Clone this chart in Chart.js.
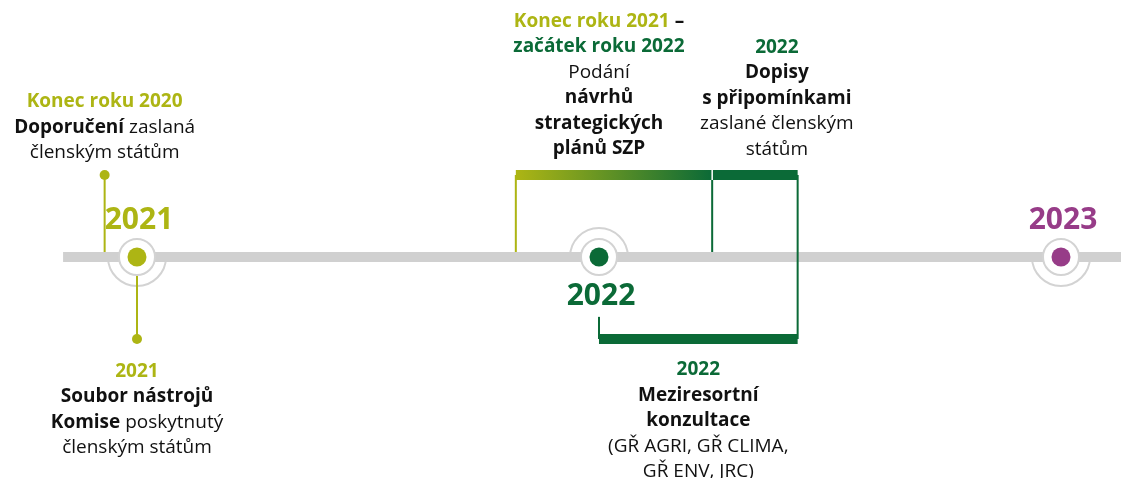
<!DOCTYPE html>
<html>
<head>
<meta charset="utf-8">
<title>Časová osa SZP</title>
<style>
  body { margin: 0; background: #fff; }
  #wrap { position: relative; width: 1121px; height: 478px; }
</style>
</head>
<body>
<div id="wrap"><canvas id="timeline"></canvas></div>
<script src="https://cdn.jsdelivr.net/npm/chart.js"></script>
<script>
// milníky na ose (roky)
const milestoneYears = [2021, 2022, 2023];
const milestoneLabels = ['2021', '2022', '2023'];

// rozsah šedé osy
const axisStart = 2020.84;
const axisEnd = 2023.3;

// období - vodorovné pruhy (úroveň 1 = nad osou, -1 = pod osou)
const periodStart = [2021.82, 2022.245, 2022.0];
const periodEnd = [2022.245, 2022.43, 2022.43];
const periodLevel = [1, 1, -1];

// svislé spojnice
const connectorX = [2020.93, 2021.0, 2021.82, 2022.245, 2022.43, 2022.0];
const connectorFrom = [1, -1, 1, 1, 1, -1];
const connectorTo = [0, 0, 0, 0, -1, -0.73];

// tečky na koncích spojnic
const pinX = [2020.93, 2021.0];
const pinLevel = [1, -1];

// popisky  ({o} = olivová, {g} = zelená, ** = tučně)
const noteX = [2020.93, 2021.0, 2022.0, 2022.385, 2022.215];
const noteLines = [
  ['{o}Konec roku 2020', '**Doporučení** zaslaná', 'členským státům'],
  ['{o}2021', '**Soubor nástrojů**', '**Komise** poskytnutý', 'členským státům'],
  ['{o}Konec roku 2021{/} **–**', '{g}začátek roku 2022', 'Podání', '**návrhů**', '**strategických**', '**plánů SZP**'],
  ['{g}2022', '**Dopisy**', '**s připomínkami**', 'zaslané členským', 'státům'],
  ['{g}2022', '**Meziresortní**', '**konzultace**', '(GŘ AGRI, GŘ CLIMA,', 'GŘ ENV, JRC)']
];

// --- vzhled ---
const C = {
  olive: '#adb514',
  green: '#0b6a37',
  purple: '#973c88',
  axis: '#d0d0d0',
  ring: '#d3d3d3',
  text: '#111'
};
const FONT = '"Open Sans", "Noto Sans", sans-serif';
const markerColors = [C.olive, C.green, C.purple];
const labelSide = [1, -1, 1];          // rok nad / pod osou
const noteBaseline = [1.829, -1.463, 2.805, 2.488, -1.439]; // úroveň první řádky
const LINE_H = 25.5;

const colorOf = x => (x < 2022 ? C.olive : C.green);

function lineDs(points, color, width, order) {
  return {
    data: points,
    showLine: true,
    borderColor: color,
    borderWidth: width,
    borderCapStyle: 'butt',
    pointRadius: 0,
    pointHoverRadius: 0,
    order: order
  };
}

function gradientColor(s, e) {
  const c0 = colorOf(s), c1 = colorOf(e);
  if (c0 === c1) return c0;
  return function (ctx) {
    const chart = ctx.chart;
    const xs = chart.scales.x;
    if (!xs || !chart.chartArea) return c0;
    const g = chart.ctx.createLinearGradient(xs.getPixelForValue(s), 0, xs.getPixelForValue(e), 0);
    g.addColorStop(0, c0);
    g.addColorStop(1, c1);
    return g;
  };
}

const datasets = [];

// spojnice
connectorX.forEach((x, i) => {
  const crosses = connectorFrom[i] * connectorTo[i] < 0;
  datasets.push(lineDs([{ x: x, y: connectorFrom[i] }, { x: x, y: connectorTo[i] }], colorOf(x), 2, crosses ? 30 : 50));
});

// šedá osa
datasets.push(lineDs([{ x: axisStart, y: 0 }, { x: axisEnd, y: 0 }], C.axis, 10, 40));

// pruhy období
periodStart.forEach((s, i) => {
  datasets.push(lineDs([{ x: s, y: periodLevel[i] }, { x: periodEnd[i], y: periodLevel[i] }],
    gradientColor(s, periodEnd[i]), 10, 20));
});

// kroužky kolem milníků
datasets.push({
  data: milestoneYears.map(y => ({ x: y, y: 0 })),
  pointRadius: 18,
  pointBorderWidth: 2,
  pointBorderColor: C.ring,
  pointBackgroundColor: '#fff',
  order: 10
});

// tečky milníků
datasets.push({
  data: milestoneYears.map(y => ({ x: y, y: 0 })),
  pointRadius: 9.5,
  pointBorderWidth: 0,
  pointBackgroundColor: markerColors,
  order: 5
});

// tečky spojnic
datasets.push({
  data: pinX.map((x, i) => ({ x: x, y: pinLevel[i] })),
  pointRadius: 5,
  pointBorderWidth: 0,
  pointBackgroundColor: pinX.map(colorOf),
  order: 4
});

function parseLine(str) {
  const parts = str.split(/(\{o\}|\{g\}|\{\/\}|\*\*)/);
  let color = null, bold = false;
  const runs = [];
  parts.forEach(p => {
    if (p === '{o}') color = C.olive;
    else if (p === '{g}') color = C.green;
    else if (p === '{/}') color = null;
    else if (p === '**') bold = !bold;
    else if (p) {
      const b = bold || color !== null;
      runs.push({ text: p, color: color || C.text, font: (b ? 'bold ' : '') + '19px ' + FONT });
    }
  });
  return runs;
}

const decor = {
  id: 'decor',
  beforeDatasetsDraw(chart) {
    const ctx = chart.ctx, xs = chart.scales.x, ys = chart.scales.y;
    ctx.save();
    ctx.strokeStyle = C.ring;
    ctx.lineWidth = 2;
    milestoneYears.forEach((yr, i) => {
      const px = xs.getPixelForValue(yr), py = ys.getPixelForValue(0);
      ctx.beginPath();
      if (labelSide[i] > 0) ctx.arc(px, py, 29, 0, Math.PI);
      else ctx.arc(px, py, 29, Math.PI, 2 * Math.PI);
      ctx.stroke();
    });
    ctx.restore();
  },
  afterDatasetsDraw(chart) {
    const ctx = chart.ctx, xs = chart.scales.x, ys = chart.scales.y;
    ctx.save();
    // bílá dělicí čárka mezi pruhy
    periodStart.forEach((s, i) => {
      if (i > 0 && periodLevel[i] === periodLevel[i - 1] && periodEnd[i - 1] === s) {
        const px = xs.getPixelForValue(s), py = ys.getPixelForValue(periodLevel[i]);
        ctx.fillStyle = '#fff';
        ctx.fillRect(px - 0.75, py - 5, 1.5, 10);
      }
    });
    // roky u milníků
    ctx.textAlign = 'center';
    ctx.textBaseline = 'alphabetic';
    ctx.font = 'bold 30px ' + FONT;
    milestoneYears.forEach((yr, i) => {
      const px = xs.getPixelForValue(yr), py = ys.getPixelForValue(0);
      ctx.fillStyle = markerColors[i];
      ctx.fillText(milestoneLabels[i], px + 2, labelSide[i] > 0 ? py - 28 : py + 48);
    });
    // popisky
    ctx.textAlign = 'left';
    noteLines.forEach((lines, n) => {
      const cx = xs.getPixelForValue(noteX[n]);
      let by = ys.getPixelForValue(noteBaseline[n]);
      lines.forEach(line => {
        const runs = parseLine(line);
        let w = 0;
        runs.forEach(r => { ctx.font = r.font; r.w = ctx.measureText(r.text).width; w += r.w; });
        let x = cx - w / 2;
        runs.forEach(r => {
          ctx.font = r.font;
          ctx.fillStyle = r.color;
          ctx.fillText(r.text, x, by);
          x += r.w;
        });
        by += LINE_H;
      });
    });
    ctx.restore();
  }
};

new Chart(document.getElementById('timeline'), {
  type: 'scatter',
  data: { datasets: datasets },
  options: {
    responsive: true,
    maintainAspectRatio: false,
    animation: false,
    events: [],
    layout: { padding: 0, autoPadding: false },
    plugins: { legend: { display: false }, tooltip: { enabled: false } },
    scales: {
      x: { type: 'linear', display: false, min: 2020.7035, max: 2023.1299 },
      y: { type: 'linear', display: false, min: -2.695, max: 3.134 }
    }
  },
  plugins: [decor]
});
</script>
</body>
</html>
